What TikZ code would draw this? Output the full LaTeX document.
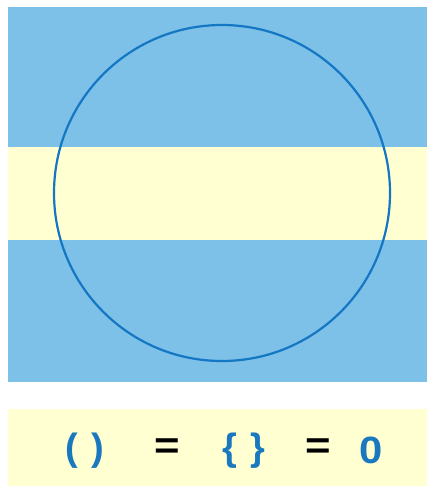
\documentclass[tikz,border=0pt]{standalone}
\usepackage{fontspec}
\setmainfont{Liberation Sans}
\definecolor{bandblue}{HTML}{7DC0E8}
\definecolor{bandyellow}{HTML}{FFFFD2}
\definecolor{ringblue}{HTML}{1477C4}
\definecolor{textblue}{HTML}{1A78BE}
\begin{document}
\begin{tikzpicture}[x=1pt,y=-1pt,
  glyph/.style={font=\bfseries\fontsize{38}{38}\selectfont,inner sep=0pt,anchor=center},
  sym/.style={glyph,text=textblue},
  eqs/.style={glyph,text=black,xscale=1.15}]
\useasboundingbox (0,0) rectangle (427,486);
\fill[white] (0,0) rectangle (427,486);
\fill[bandblue] (8,7) rectangle (427,147);
\fill[bandyellow] (8,147) rectangle (427,240);
\fill[bandblue] (8,240) rectangle (427,382);
\fill[bandyellow] (8,409) rectangle (427,486);
\draw[ringblue,line width=2.2pt] (222,193) circle[radius=168];
\node[sym] (po) at (71.5,451) {(};
\node[sym] (pc) at (97.5,451) {)};
\node[eqs] (e1) at (167.5,449) {=};
\node[sym] (bo) at (230,451) {\{};
\node[sym] (bc) at (257.5,451) {\}};
\node[eqs] (e2) at (318,449) {=};
\node[sym,xscale=1.1] (z) at (371,450) {0};
\end{tikzpicture}
\end{document}
